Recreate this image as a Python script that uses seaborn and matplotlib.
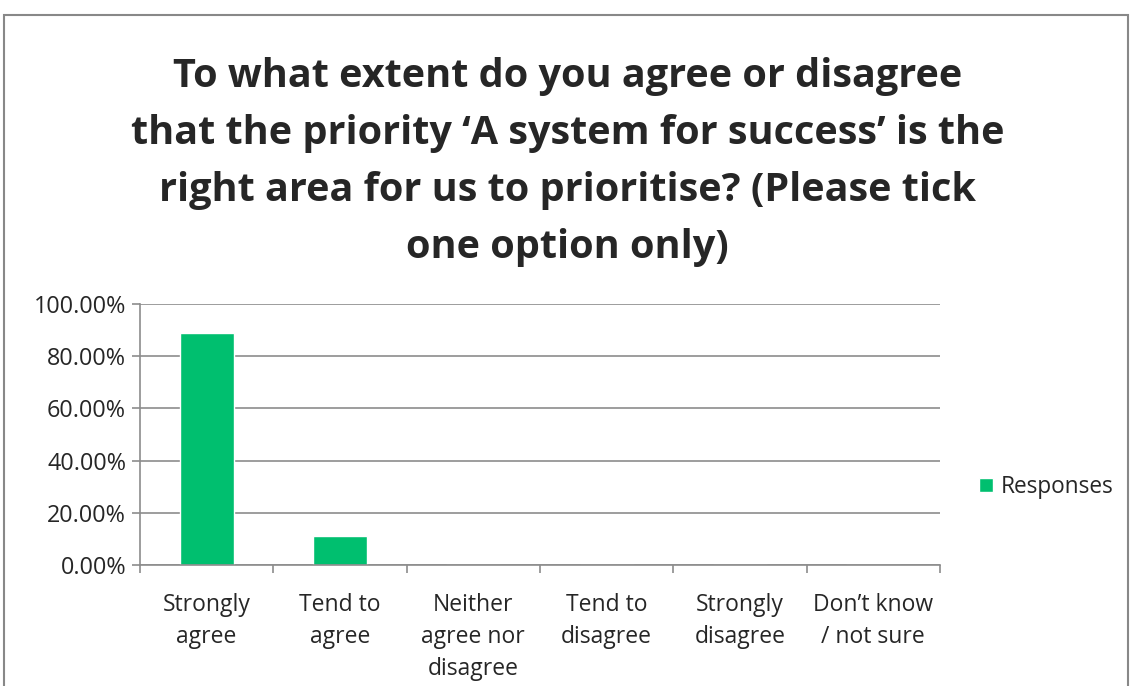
import matplotlib
matplotlib.use("Agg")
import matplotlib.pyplot as plt
import seaborn as sns
import pandas as pd
from matplotlib.patches import Rectangle
from matplotlib.ticker import FuncFormatter, MultipleLocator

categories = ["Strongly\nagree", "Tend to\nagree", "Neither\nagree nor\ndisagree",
              "Tend to\ndisagree", "Strongly\ndisagree", "Don’t know\n/ not sure"]
values = [88.9, 11.1, 0.0, 0.0, 0.0, 0.0]
series_name = "Responses"
title = ("To what extent do you agree or disagree\n"
         "that the priority ‘A system for success’ is the\n"
         "right area for us to prioritise? (Please tick\n"
         "one option only)")

sns.set_style("white")
plt.rcParams['font.family'] = ['Open Sans', 'DejaVu Sans']

df = pd.DataFrame({"cat": categories, "val": values, "series": series_name})

fig = plt.figure(figsize=(11.31, 6.86), dpi=100)
W, H = 1131, 686
ax = fig.add_axes([140 / W, 1 - 565 / H, 800 / W, 261 / H])

green = "#00BF6F"
sns.barplot(data=df, x="cat", y="val", hue="series", palette=[green],
            width=0.405, ax=ax, legend=True, saturation=1)

ax.set_ylim(0, 100)
ax.set_xlim(-0.5, 5.5)
ax.yaxis.set_major_locator(MultipleLocator(20))
ax.yaxis.set_major_formatter(FuncFormatter(lambda v, p: f"{v:.2f}%"))
ax.grid(axis="y", color="#8c8c8c", linewidth=1.2)
ax.set_axisbelow(True)
for s in ["top", "right"]:
    ax.spines[s].set_visible(False)
for s in ["left", "bottom"]:
    ax.spines[s].set_color("#8c8c8c")
    ax.spines[s].set_linewidth(1.2)
ax.set_xlabel("")
ax.set_ylabel("")
ax.tick_params(axis="y", which="major", length=6, width=1.2, color="#8c8c8c",
               labelsize=16.8, pad=4, direction="out", left=True)
ax.tick_params(axis="x", which="major", length=0, labelsize=16.5, pad=20)
ax.set_xticks(range(6))
ax.set_xticklabels(categories, linespacing=1.45)
ax.set_xticks([i + 0.5 for i in range(-1, 6)], minor=True)
ax.tick_params(axis="x", which="minor", length=6, width=1.2, color="#8c8c8c",
               direction="out", bottom=True)

leg = ax.legend(loc="center left", bbox_to_anchor=((970 - 140) / 800, (565 - 487) / 261),
                frameon=False, fontsize=16.3, handlelength=0.6, handleheight=0.6,
                handletextpad=0.35, borderaxespad=0)

fig.text(0.5 * (1131 + 4) / W, 1 - 57 / H, title, ha="center", va="top",
         fontsize=28.5, fontweight="bold", linespacing=1.6)

fig.patches.append(Rectangle((4 / W, -0.05), (1128 - 4) / W, 1.05 - 15 / H,
                             transform=fig.transFigure, fill=False,
                             edgecolor="#888888", linewidth=1.5, zorder=0))

fig.savefig("out.png", dpi=100)
